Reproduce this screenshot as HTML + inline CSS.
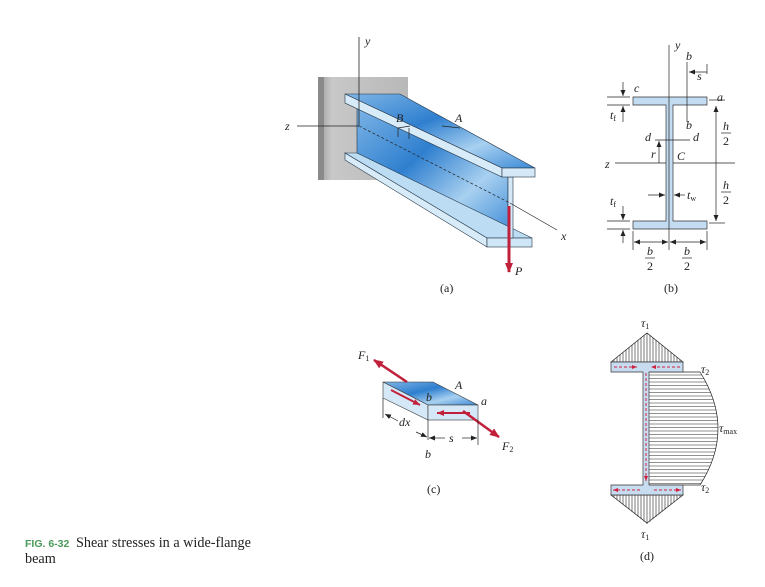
<!DOCTYPE html>
<html><head><meta charset="utf-8"><style>
body{margin:0;background:#fff;width:765px;height:587px;overflow:hidden}
svg{display:block}
text{font-family:"Liberation Serif",serif;font-style:italic;font-size:12px;fill:#222}
.n{font-style:normal}
</style></head><body>
<svg width="765" height="587" viewBox="0 0 765 587">
<defs>
<linearGradient id="bl" x1="0" y1="0" x2="1" y2="1">
<stop offset="0" stop-color="#7fb6e6"/><stop offset=".4" stop-color="#2f7fcf"/><stop offset=".7" stop-color="#a8d0f0"/><stop offset="1" stop-color="#3b8ad6"/></linearGradient>
<linearGradient id="gr" x1="0" y1="0" x2="1" y2="0"><stop offset="0" stop-color="#9a9a9a"/><stop offset=".15" stop-color="#c8c8c8"/><stop offset="1" stop-color="#b8b8b8"/></linearGradient>
<marker id="ar" markerUnits="userSpaceOnUse" markerWidth="6" markerHeight="5" refX="6" refY="2.5" orient="auto"><path d="M0,0 L6,2.5 L0,5z" fill="#222"/></marker>
<marker id="rr" markerUnits="userSpaceOnUse" markerWidth="10" markerHeight="8" refX="9" refY="4" orient="auto"><path d="M0,0 L10,4 L0,8z" fill="#c0203a"/></marker>
<marker id="rs" markerUnits="userSpaceOnUse" markerWidth="7" markerHeight="6" refX="7" refY="3" orient="auto"><path d="M0,0 L7,3 L0,6z" fill="#c0203a"/></marker>
<marker id="rb" markerUnits="userSpaceOnUse" markerWidth="5" markerHeight="4" refX="5" refY="2" orient="auto"><path d="M0,0 L5,2 L0,4z" fill="#d02040"/></marker>
</defs>
<!-- (a) -->
<rect x="318" y="77" width="90" height="103" fill="url(#gr)"/>
<rect x="318" y="77" width="6" height="103" fill="#8a8a8a"/>
<polygon points="357,103 508,177 508,238 357,153" fill="url(#bl)" stroke="#234" stroke-width=".6"/>
<polygon points="345,153 357,153 532,238 487,238" fill="#bcdcf4" stroke="#234" stroke-width=".6"/>
<polygon points="345,153 487,238 487,247 345,160" fill="#d8ebf8" stroke="#234" stroke-width=".6"/>
<rect x="487" y="238" width="45" height="9" fill="#cfe6f7" stroke="#234" stroke-width=".6"/>
<rect x="508" y="177" width="5" height="61" fill="#d5e8f7" stroke="#234" stroke-width=".6"/>
<polygon points="345,94 400,94 535,168 502,168" fill="url(#bl)" stroke="#234" stroke-width=".6"/>
<polygon points="345,94 502,168 502,177 345,103" fill="#d8ebf8" stroke="#234" stroke-width=".6"/>
<rect x="502" y="168" width="33" height="9" fill="#d5e8f7" stroke="#234" stroke-width=".6"/>
<line x1="359" y1="37" x2="359" y2="126" stroke="#222" stroke-width=".8"/>
<line x1="297" y1="126" x2="359" y2="126" stroke="#222" stroke-width=".8"/>
<line x1="359" y1="126" x2="510" y2="203" stroke="#222" stroke-width=".7" stroke-dasharray="3,2"/>
<line x1="510" y1="203" x2="557" y2="230" stroke="#222" stroke-width=".7"/>
<line x1="509" y1="206" x2="509" y2="272" stroke="#c0203a" stroke-width="3" marker-end="url(#rr)"/>
<path d="M398,128 L398,137 M409,128 L409,139 M398,128 L410,126" stroke="#222" stroke-width=".7" fill="none"/>
<path d="M442,126 L460,128" stroke="#222" stroke-width=".7"/>
<text x="365" y="45">y</text><text x="285" y="130">z</text><text x="396" y="122">B</text><text x="455" y="122">A</text>
<text x="561" y="240">x</text><text x="515" y="275">P</text><text class="n" x="440" y="292">(a)</text>
<!-- (b) -->
<path d="M633,97 H707 V105 H673 V221 H707 V229 H633 V221 H666 V105 H633Z" fill="#c3dcf2" stroke="#333" stroke-width=".7"/>
<g stroke="#222" stroke-width=".7" fill="none">
<line x1="669" y1="45" x2="669" y2="250"/>
<line x1="615" y1="163" x2="666" y2="163"/><line x1="673" y1="163" x2="735" y2="163"/>
<line x1="607" y1="97" x2="630" y2="97"/><line x1="607" y1="105" x2="630" y2="105"/>
<line x1="623" y1="82" x2="623" y2="96" marker-end="url(#ar)"/><line x1="623" y1="122" x2="623" y2="106" marker-end="url(#ar)"/>
<line x1="607" y1="221" x2="630" y2="221"/><line x1="607" y1="229" x2="630" y2="229"/>
<line x1="623" y1="206" x2="623" y2="220" marker-end="url(#ar)"/><line x1="623" y1="243" x2="623" y2="230" marker-end="url(#ar)"/>
<line x1="709" y1="100" x2="725" y2="100"/><line x1="709" y1="223" x2="725" y2="223"/>
<line x1="716" y1="163" x2="716" y2="106" marker-end="url(#ar)"/><line x1="716" y1="163" x2="716" y2="221" marker-end="url(#ar)"/>
<line x1="633" y1="231" x2="633" y2="250"/><line x1="707" y1="231" x2="707" y2="250"/>
<line x1="651" y1="242" x2="634" y2="242" marker-end="url(#ar)"/><line x1="651" y1="242" x2="668" y2="242" marker-end="url(#ar)"/>
<line x1="688" y1="242" x2="670" y2="242" marker-end="url(#ar)"/><line x1="688" y1="242" x2="706" y2="242" marker-end="url(#ar)"/>
<line x1="687" y1="62" x2="687" y2="122"/>
<line x1="707" y1="64" x2="707" y2="74"/><line x1="707" y1="72" x2="689" y2="72" marker-end="url(#ar)"/>
<line x1="655" y1="140" x2="690" y2="140"/>
<line x1="659" y1="163" x2="659" y2="141" marker-end="url(#ar)"/>
<line x1="648" y1="195" x2="665" y2="195" marker-end="url(#ar)"/><line x1="685" y1="195" x2="674" y2="195" marker-end="url(#ar)"/>
<line x1="721" y1="133" x2="731" y2="133"/><line x1="721" y1="192" x2="731" y2="192"/>
<line x1="645" y1="258" x2="655" y2="258"/><line x1="682" y1="258" x2="692" y2="258"/>
</g>
<text x="675" y="49">y</text><text x="686" y="60">b</text><text x="697" y="80">s</text><text x="634" y="92">c</text><text x="717" y="101">a</text>
<text x="610" y="119">t<tspan font-size="8" dy="2" font-style="normal">f</tspan></text>
<text x="686" y="129">b</text><text x="645" y="141">d</text><text x="693" y="141">d</text><text x="651" y="158">r</text><text x="677" y="160">C</text>
<text x="605" y="168">z</text><text x="610" y="205">t<tspan font-size="8" dy="2" font-style="normal">f</tspan></text>
<text x="687" y="199">t<tspan font-size="8" dy="2" font-style="normal">w</tspan></text>
<text x="723" y="130">h</text><text class="n" x="723" y="145">2</text><text x="723" y="189">h</text><text class="n" x="723" y="204">2</text>
<text x="647" y="255">b</text><text class="n" x="647" y="270">2</text><text x="684" y="255">b</text><text class="n" x="684" y="270">2</text>
<text class="n" x="664" y="292">(b)</text>
<!-- (c) -->
<polygon points="383,382 433,382 478,405 428,405" fill="url(#bl)" stroke="#333" stroke-width=".6"/>
<polygon points="383,382 428,405 428,420 383,398" fill="#d5e8f7" stroke="#333" stroke-width=".6"/>
<rect x="428" y="405" width="50" height="15" fill="#d5e8f7" stroke="#333" stroke-width=".6"/>
<line x1="407" y1="382" x2="374" y2="360" stroke="#c0203a" stroke-width="2.5" marker-end="url(#rr)"/>
<line x1="463" y1="411" x2="499" y2="437" stroke="#c0203a" stroke-width="2.5" marker-end="url(#rr)"/>
<line x1="391" y1="390" x2="420" y2="405" stroke="#c0203a" stroke-width="2" marker-end="url(#rs)"/>
<line x1="470" y1="413" x2="437" y2="413" stroke="#c0203a" stroke-width="2" marker-end="url(#rs)"/>
<g stroke="#222" stroke-width=".7" fill="none">
<line x1="383" y1="398" x2="383" y2="418"/><line x1="428" y1="420" x2="428" y2="440"/><line x1="478" y1="420" x2="478" y2="445"/>
<line x1="398" y1="421" x2="385" y2="414" marker-end="url(#ar)"/><line x1="416" y1="432" x2="427" y2="437" marker-end="url(#ar)"/>
<line x1="445" y1="438" x2="429" y2="438" marker-end="url(#ar)"/><line x1="462" y1="438" x2="477" y2="438" marker-end="url(#ar)"/>
</g>
<text x="358" y="359">F<tspan font-size="8" dy="2" font-style="normal">1</tspan></text><text x="502" y="450">F<tspan font-size="8" dy="2" font-style="normal">2</tspan></text>
<text x="455" y="389">A</text><text x="481" y="405">a</text><text x="426" y="401">b</text><text x="425" y="458">b</text>
<text x="399" y="426">dx</text><text x="449" y="442">s</text><text class="n" x="427" y="493">(c)</text>
<!-- (d) -->
<g stroke="#222" stroke-width=".7">
<polygon points="611,362 647,333 683,362" fill="#fff"/>
<polygon points="611,495 647,523 683,495" fill="#fff"/>
<path d="M649,372 L700,372 Q736,429 700,485 L649,485" fill="#fff"/>
</g>
<g stroke="#222" stroke-width=".6" id="vh"></g>
<path d="M611,362H683V372H649V485H683V495H611V485H643V372H611Z" fill="#c8dcf0" stroke="#333" stroke-width=".7"/>
<g stroke="#d02040" stroke-width="1" stroke-dasharray="3,2">
<line x1="614" y1="367" x2="637" y2="367" marker-end="url(#rb)"/><line x1="680" y1="367" x2="651" y2="367" marker-end="url(#rb)"/>
<line x1="646" y1="373" x2="646" y2="481" marker-end="url(#rb)"/>
<line x1="640" y1="490" x2="613" y2="490" marker-end="url(#rb)"/><line x1="654" y1="490" x2="681" y2="490" marker-end="url(#rb)"/>
</g>
<text x="641" y="327">τ<tspan font-size="8" dy="2" font-style="normal">1</tspan></text>
<text x="641" y="538">τ<tspan font-size="8" dy="2" font-style="normal">1</tspan></text>
<text x="701" y="373">τ<tspan font-size="8" dy="2" font-style="normal">2</tspan></text>
<text x="701" y="491">τ<tspan font-size="8" dy="2" font-style="normal">2</tspan></text>
<text x="719" y="432">τ<tspan font-size="8" dy="2" font-style="normal">max</tspan></text>
<text class="n" x="640" y="560">(d)</text>
<!-- caption -->
<text class="n" x="25" y="547" style="font-family:'Liberation Sans',sans-serif;font-weight:bold;font-size:10.5px;fill:#4a9a5a">FIG. 6-32</text>
<text class="n" x="76" y="547" style="font-size:14.2px">Shear stresses in a wide-flange</text>
<text class="n" x="25" y="563" style="font-size:14.2px">beam</text>
</svg>
<script>
var g=document.getElementById('vh'),s='';
for(var x=614;x<683;x+=3){var d=Math.abs(x-647),h=29*(1-d/36);s+='<line x1="'+x+'" y1="'+(362-h)+'" x2="'+x+'" y2="362"/><line x1="'+x+'" y1="495" x2="'+x+'" y2="'+(495+h)+'"/>';}
for(var y=375;y<485;y+=3.5){var t=(y-428.5)/56.5,xr=700+18*(1-t*t);s+='<line x1="649" y1="'+y+'" x2="'+xr+'" y2="'+y+'"/>';}
g.innerHTML=s;
</script>
</body></html>
